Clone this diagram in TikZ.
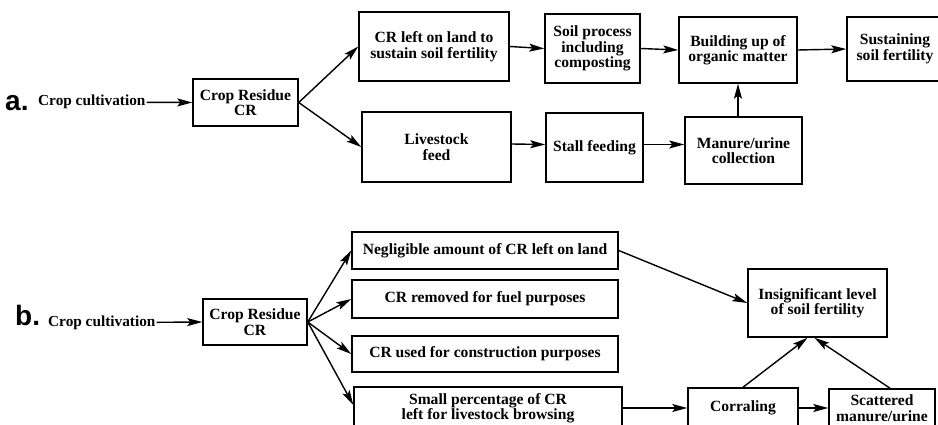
\documentclass[tikz,border=0pt]{standalone}
\usepackage{fontspec}
\setmainfont{Liberation Serif}
\newfontfamily\labfont{Liberation Sans}
\usetikzlibrary{arrows.meta,calc}
\begin{document}
\begin{tikzpicture}[x=1pt,y=-1pt,
  box/.style={draw, line width=1.5pt, align=center, inner sep=0pt,
    font=\fontsize{15.6}{15.5}\selectfont\bfseries},
  size/.style 2 args={minimum width=#1pt, minimum height=#2pt},
  txt/.style={inner sep=1pt, font=\fontsize{15.3}{15.5}\selectfont\bfseries},
  lab/.style={inner sep=0pt, font=\labfont\bfseries\fontsize{28}{28}\selectfont},
  arr/.style={line width=1.4pt, -{Stealth[length=15pt,width=8pt,inset=3pt]}}]
\useasboundingbox (0,0) rectangle (938,425);
\clip (0,0) rectangle (938,425);
% ---------- a ----------
\node[lab, anchor=base west] (la) at (5,111) {a.};
\node[txt, anchor=base west] (ccA) at (37,106) {Crop cultivation};
\node[box, size={105}{47}] (crA) at (245.5,102.5) {Crop Residue\\CR};
\node[box, size={150}{69}] (land) at (434,46.5) {CR left on land to\\sustain soil fertility};
\node[box, size={149}{70}] (feed) at (436.5,147) {Livestock\\feed};
\node[box, size={95}{69}] (soil) at (592.5,48.5) {Soil process\\including\\composting};
\node[box, size={97}{69}] (stall) at (594.5,147.5) {Stall feeding};
\node[box, size={118}{66}] (build) at (738,50) {Building up of\\organic matter};
\node[box, size={117}{67}] (manure) at (743.5,150.5) {Manure/urine\\collection};
\node[box, size={96}{64}] (sustain) at (895,49) {Sustaining\\soil fertility};
\coordinate (s1) at ($(stall.east)+(0,-3)$);
\coordinate (s2) at (s1 -| manure.west);
\draw[arr] (ccA.east) -- (crA.west);
\draw[arr] (crA.east) -- (land.west);
\draw[arr] (crA.east) -- (feed.west);
\draw[arr] (land.east) -- (soil.west);
\draw[arr] (soil.east) -- (build.west);
\draw[arr] (build.east) -- (sustain.west);
\draw[arr] ($(feed.east)+(0,-3)$) -- ($(stall.west)+(0,-3)$);
\draw[arr] (s1) -- (s2);
\draw[arr] (build.south |- manure.north) -- (build.south);
% ---------- b ----------
\node[lab, anchor=base west] (lb) at (15,325) {b.};
\node[txt, anchor=base west] (ccB) at (47,326) {Crop cultivation};
\node[box, size={104}{46}] (crB) at (255,322) {Crop Residue\\CR};
\node[box, size={266}{37}] (neg) at (485,250.5) {Negligible amount of CR left on land};
\node[box, size={266}{38}] (fuel) at (485,299) {CR removed for fuel purposes};
\node[box, size={266}{36}] (constr) at (485,354) {CR used for construction purposes};
\node[box, size={268}{42}] (small) at (488,408) {Small percentage of CR\\left for livestock browsing};
\node[box, size={139}{68}] (insig) at (817.5,303) {Insignificant level\\of soil fertility};
\node[box, size={110}{40}] (corral) at (743,408) {Corraling};
\node[box, size={106}{38}] (scat) at (882,408) {Scattered\\manure/urine};
\draw[arr] (ccB.east) -- (crB.west);
\draw[arr] (crB.east) -- (neg.west);
\draw[arr] (crB.east) -- (fuel.west);
\draw[arr] (crB.east) -- (constr.west);
\draw[arr] (crB.east) -- ($(small.west)+(0,-3)$);
\draw[arr] (neg.east) -- (insig.west);
\draw[arr] (small.east) -- (corral.west);
\draw[arr] (corral.east) -- (scat.west);
\draw[arr] (corral.north) -- ($(insig.south)+(-10,0)$);
\draw[arr] ($(scat.north)+(8,0)$) -- ($(insig.south)+(-3,0)$);
\end{tikzpicture}
\end{document}
